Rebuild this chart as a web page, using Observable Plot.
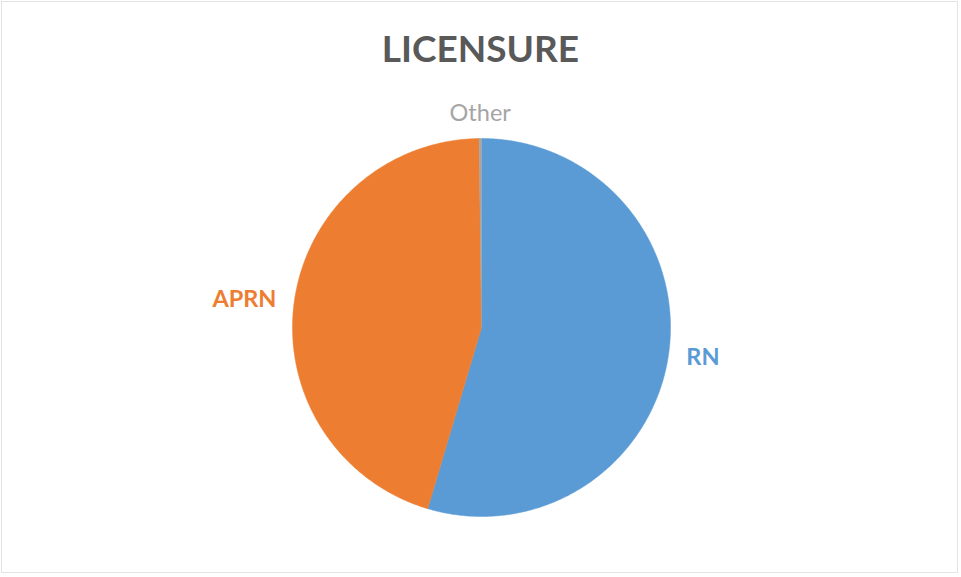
<!DOCTYPE html>
<html>
<head>
<meta charset="utf-8">
<script src="https://cdn.jsdelivr.net/npm/d3@7"></script>
<script src="https://cdn.jsdelivr.net/npm/@observablehq/plot@0.6"></script>
<style>
  html, body { margin: 0; padding: 0; background: #fff; }
  #wrap { position: relative; width: 961px; height: 577px; overflow: hidden; }
  #frame { position: absolute; left: 1px; top: 1px; width: 957px; height: 572px; border: 1px solid #e3e3e3; box-sizing: border-box; pointer-events: none; }
  #title { position: absolute; left: 0; width: 961px; top: 24px; text-align: center; font-family: Lato, "Open Sans", sans-serif; font-weight: bold; font-size: 37px; color: #595959; line-height: 48px; margin: 0; }
  #chart { position: absolute; left: 0; top: 0; }
</style>
</head>
<body>
<div id="wrap">
  <div id="chart"></div>
  <div id="title">LICENSURE</div>
  <div id="frame"></div>
</div>
<script>
// Data
const categories = ["RN", "APRN", "Other"];
const values = [54.6, 45.2, 0.2];
const colors = ["#5b9bd5", "#ed7d31", "#a5a5a5"];
const labelWeights = ["bold", "bold", "normal"];

const W = 961, H = 577;
const cx = 481, cy = 327, R = 189; // pixel layout of pie

const pie = d3.pie().sort(null).value(d => d.value);
const rows = categories.map((c, i) => ({ key: c, value: values[i] }));
const arcs = pie(rows);

// polygon points in unit coordinates (angle measured clockwise from 12 o'clock)
const pts = [];
arcs.forEach(a => {
  pts.push({ key: a.data.key, x: 0, y: 0 });
  const n = Math.max(2, Math.ceil((a.endAngle - a.startAngle) / (Math.PI / 360)));
  for (let k = 0; k <= n; k++) {
    const t = a.startAngle + (a.endAngle - a.startAngle) * k / n;
    pts.push({ key: a.data.key, x: Math.sin(t), y: Math.cos(t) });
  }
  pts.push({ key: a.data.key, x: 0, y: 0 });
});

// labels outside end
const gap = 18 / R;
const labels = arcs.map((a, i) => {
  const m = (a.startAngle + a.endAngle) / 2;
  const sx = Math.sin(m), sy = Math.cos(m);
  let anchor = "middle";
  if (sx > 0.3) anchor = "start"; else if (sx < -0.3) anchor = "end";
  return { key: a.data.key, x: sx * (1 + gap), y: sy * (1 + gap), anchor,
           color: colors[i], weight: labelWeights[i], vert: sy > 0.7 ? "bottom" : (sy < -0.7 ? "top" : "middle") };
});

const xDomain = [-cx / R, (W - cx) / R];
const yDomain = [(cy - H) / R, cy / R];

const plot = Plot.plot({
  width: W,
  height: H,
  margin: 0,
  x: { domain: xDomain, range: [0, W], axis: null },
  y: { domain: yDomain, range: [H, 0], axis: null },
  color: { domain: categories, range: colors },
  style: { fontFamily: "Lato, 'Open Sans', sans-serif", background: "transparent" },
  marks: [
    Plot.line(pts, { x: "x", y: "y", z: "key", fill: "key", stroke: "key", strokeWidth: 0.5, curve: "linear" }),
    ...labels.map(l => Plot.text([l], {
      x: "x", y: "y", text: "key", fill: l.color, textAnchor: l.anchor, lineAnchor: l.vert,
      fontSize: 23.5, fontWeight: l.weight
    }))
  ]
});
document.getElementById("chart").appendChild(plot);
</script>
</body>
</html>
